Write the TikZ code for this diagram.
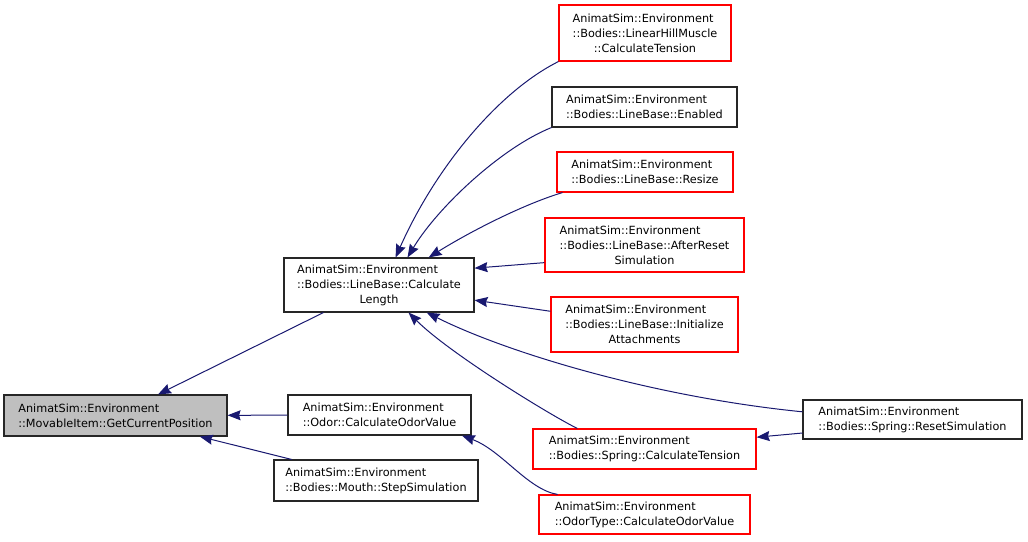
\documentclass[tikz,border=0pt]{standalone}
\usepackage{fontspec}
\setmainfont{DejaVu Sans}
\usetikzlibrary{arrows.meta}
\definecolor{edgeblue}{RGB}{25,25,112}
\definecolor{nodegray}{RGB}{191,191,191}
\newcommand{\envname}[1]{\rlap{AnimatSim::Environment}\phantom{#1}\\#1}

\begin{document}
\begin{tikzpicture}[x=1pt,y=-1pt,
  fn/.style={draw=black!85, line width=1.1pt, align=center, inner sep=0pt,
    font=\fontsize{11.25}{15}\selectfont},
  fnred/.style={fn, draw=red},
  edge/.style={draw=edgeblue, line width=1pt,
    -{Stealth[length=13pt,width=10pt,inset=1.5pt]}}]
\useasboundingbox (0,0) rectangle (1028,541);

% called function
\node[fn, fill=nodegray, minimum width=223pt, minimum height=41pt] (gcp) at (115.5,415.5)
  {\envname{::MovableItem::GetCurrentPosition}};

% first level callers
\node[fn, minimum width=190pt, minimum height=54pt] (cl) at (379,285)
  {\envname{::Bodies::LineBase::Calculate}\\Length};
\node[fn, minimum width=183pt, minimum height=40pt] (odor) at (379.5,415)
  {\envname{::Odor::CalculateOdorValue}};
\node[fn, minimum width=204pt, minimum height=41pt] (mouth) at (376,480.5)
  {\envname{::Bodies::Mouth::StepSimulation}};

% second level callers
\node[fnred, minimum width=172pt, minimum height=56pt] (lhm) at (645,33)
  {\envname{::Bodies::LinearHillMuscle}\\::CalculateTension};
\node[fn, minimum width=185pt, minimum height=40pt] (enab) at (644.5,107)
  {\envname{::Bodies::LineBase::Enabled}};
\node[fnred, minimum width=176pt, minimum height=40pt] (resize) at (645,172)
  {\envname{::Bodies::LineBase::Resize}};
\node[fnred, minimum width=199pt, minimum height=54pt] (after) at (644.5,245)
  {\envname{::Bodies::LineBase::AfterReset}\\Simulation};
\node[fnred, minimum width=187pt, minimum height=55pt] (init) at (644.5,324.5)
  {\envname{::Bodies::LineBase::Initialize}\\Attachments};
\node[fnred, minimum width=223pt, minimum height=40pt] (sct) at (644.5,449)
  {\envname{::Bodies::Spring::CalculateTension}};
\node[fnred, minimum width=211pt, minimum height=39pt] (otype) at (644.5,514.5)
  {\envname{::OdorType::CalculateOdorValue}};

% third level caller
\node[fn, minimum width=219pt, minimum height=39pt] (srs) at (912.5,419.5)
  {\envname{::Bodies::Spring::ResetSimulation}};

% calls
\draw[edge] (cl) -- (gcp);
\draw[edge] (odor) -- (gcp);
\draw[edge] (mouth) -- (gcp);

\draw[edge] (lhm.south west) .. controls +(-60,30) and +(40,-90) .. (cl.59);
\draw[edge] (enab.south west) .. controls +(-50,20) and +(30,-50) .. (cl.44);
\draw[edge] (resize.194) .. controls +(-40,12) and +(40,-25) .. (cl.29);
\draw[edge] (after.190) -- (cl.10);
\draw[edge] (init.172) -- (cl.351);
\draw[edge] (sct.163) .. controls +(-30,-15) and +(40,40) .. (cl.317);
\draw[edge] (srs.176) .. controls +(-150,-15) and +(80,40) .. (cl.330);
\draw[edge] (srs.187) -- (sct.6);
\draw[edge] (otype.167) .. controls +(-30,-5) and +(40,15) .. (odor.346);
\end{tikzpicture}
\end{document}
